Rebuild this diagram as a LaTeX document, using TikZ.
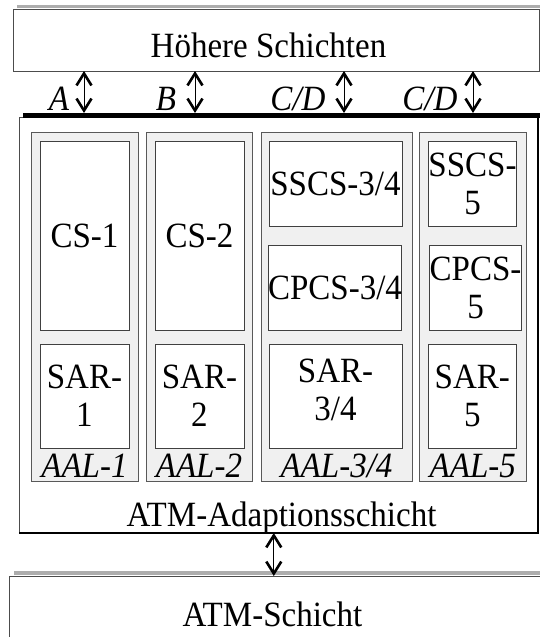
\documentclass[tikz,border=0pt]{standalone}
\usepackage{fontspec}
\setmainfont{Liberation Serif}[FakeStretch=0.93]
\usetikzlibrary{arrows.meta}

\begin{document}
\begin{tikzpicture}[x=1pt, y=-1pt,
    every node/.style={inner sep=0pt, outer sep=0pt, font=\fontsize{35.5}{38}\selectfont},
    layer/.style={draw=black!70, fill=white, line width=1pt, anchor=north west},
    panel/.style={draw=black!65, fill=black!6, line width=1pt, anchor=north west, minimum height=349pt},
    cell/.style={draw=black!75, fill=white, line width=1pt, align=center},
    lab/.style={anchor=base, font=\fontsize{35.5}{38}\selectfont\itshape},
    txt/.style={anchor=base},
    barb/.tip={Straight Barb[length=12pt, width=15pt, line width=2.6pt]},
    dbl/.style={barb-barb, line width=0.9pt}]
  \useasboundingbox (0,0) rectangle (540,637);
  \clip (0,0) rectangle (540,637);
  \node[layer, minimum width=526pt, minimum height=62pt] (hs) at (13,9) {};
  \draw[black!32, line width=3pt] ([xshift=4pt, yshift=2.5pt]hs.north west) -- ([xshift=2pt, yshift=2.5pt]hs.north east);
  \node[txt] (hst) at (268.5,57) {Höhere Schichten};
  \node[layer, minimum width=519pt, minimum height=416pt] (aal) at (19,117) {};
  \draw[line width=2pt] (aal.north east) -- (aal.south east) -- (aal.south west);
  \node[txt] (aalt) at (281.5,526) {ATM-Adaptionsschicht};
  \node[anchor=north west, fill=black, minimum width=517pt, minimum height=4.5pt] (bus) at (23,113) {};
  \node[layer, minimum width=560pt, minimum height=100pt] (atm) at (9,576) {};
  \draw[black!32, line width=4pt] ([xshift=5pt, yshift=3pt]atm.north west) -- ([yshift=3pt]atm.north east);
  \node[txt] (atmt) at (272.4,626) {ATM-Schicht};
  \node[panel, minimum width=107pt] (p1) at (31,132) {};
  \node[panel, minimum width=106pt] (p2) at (146,132) {};
  \node[panel, minimum width=151pt] (p3) at (261,132) {};
  \node[panel, minimum width=106.5pt] (p4) at (419.5,132) {};
  \node[lab] (l1) at (p1.center |- 0,477) {AAL-1};
  \node[lab] (l2) at (p2.center |- 0,477) {AAL-2};
  \node[lab] (l3) at (p3.center |- 0,477) {AAL-3/4};
  \node[lab] (l4) at (p4.center |- 0,477) {AAL-5};
  \node[cell, minimum width=89pt, minimum height=189pt] (cs1) at (84.5,236.2) {CS-1};
  \node[cell, minimum width=89pt, minimum height=189pt] (cs2) at (199.5,236.2) {CS-2};
  \node[cell, minimum width=133pt, minimum height=85.3pt] (sscs34) at (335.5,184.3) {SSCS-3/4};
  \node[cell, minimum width=133pt, minimum height=85.4pt] (cpcs34) at (335,288) {CPCS-3/4};
  \node[cell, minimum width=88.4pt, minimum height=85.3pt] (sscs5) at (472.5,184.3) {SSCS-\\5};
  \node[cell, minimum width=88.4pt, minimum height=85.4pt] (cpcs5) at (475.5,288) {CPCS-\\5};
  \node[cell, minimum width=89pt, minimum height=103.7pt] (sar1) at (84.5,396.2) {SAR-\\1};
  \node[cell, minimum width=89pt, minimum height=103.7pt] (sar2) at (199.5,396.2) {SAR-\\2};
  \node[cell, minimum width=133pt, minimum height=103.7pt] (sar34) at (335.5,396.2) {SAR-\\3/4\\[-26pt]};
  \node[cell, minimum width=88.5pt, minimum height=103.7pt] (sar5) at (472.3,396.2) {SAR-\\5};
  \draw[dbl] ([xshift=71pt]hs.south west) -- ([xshift=61pt]bus.north west);
  \draw[dbl] ([xshift=182pt]hs.south west) -- ([xshift=172pt]bus.north west);
  \draw[dbl] ([xshift=331pt]hs.south west) -- ([xshift=321pt]bus.north west);
  \draw[dbl] ([xshift=460pt]hs.south west) -- ([xshift=450pt]bus.north west);
  \node[lab] (ia) at (59,110) {A};
  \node[lab] (ib) at (166,110) {B};
  \node[lab] (ic) at (298,110) {C/D};
  \node[lab] (id) at (430,110) {C/D};
  \draw[dbl] ([xshift=-4.7pt]aal.south) -- ([xshift=264.8pt]atm.north west);
\end{tikzpicture}
\end{document}
